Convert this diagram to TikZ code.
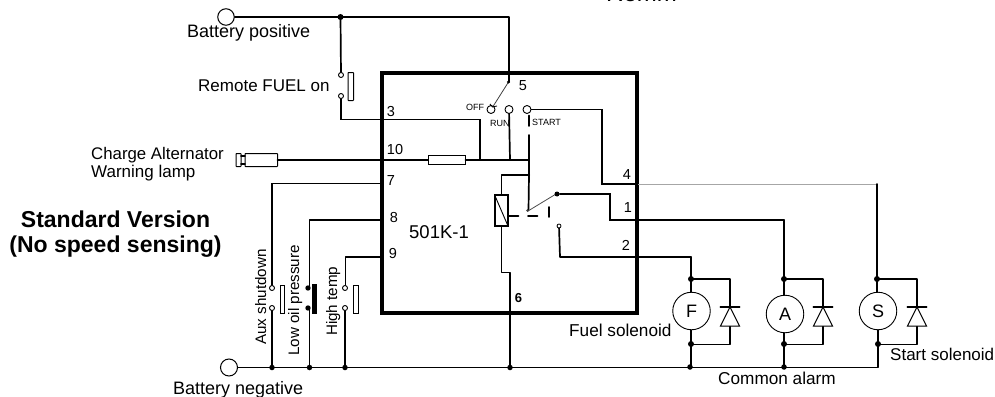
\documentclass[tikz,border=0pt]{standalone}
\usepackage{fontspec}
\setmainfont{Liberation Sans}
\tikzset{
  wire/.style={line width=1.7pt,line cap=round,line join=round},
  thinwire/.style={line width=1.15pt,line cap=round,line join=miter},
  lbl/.style={inner sep=0pt,font=\fontsize{17.5}{20}\selectfont,anchor=base west},
  rotlbl/.style={inner sep=0pt,font=\fontsize{15.2}{18}\selectfont,rotate=90,anchor=base west},
  num/.style={inner sep=0pt,font=\fontsize{14.5}{16}\selectfont,anchor=base},
  tiny/.style={inner sep=0pt,font=\fontsize{9}{11}\selectfont,anchor=base west},
  dotn/.style={circle,fill=black,inner sep=0pt,minimum size=6pt},
  ring/.style={circle,draw,line width=0.9pt,fill=white,inner sep=0pt,minimum size=5pt},
  coilnode/.style={circle,draw,line width=0.9pt,fill=white,inner sep=0pt,minimum width=37.5pt,font=\fontsize{18}{20}\selectfont},
}
\newcommand{\diodesym}[2]{%
  \draw[wire] (#1-9.5,#2-1)--(#1+9.5,#2-1);
  \draw[line width=1pt,line join=miter,fill=white] (#1,#2-1)--(#1+9.5,#2+18)--(#1-9.5,#2+18)--cycle;
  \draw[wire] (#1-9.5,#2-1)--(#1+9.5,#2-1);}
\begin{document}
\begin{tikzpicture}[x=1pt,y=-1pt]
\useasboundingbox (0,0) rectangle (995,396);
\coordinate (bp) at (340.5,17);
\coordinate (bpr) at (509,17);
\coordinate (j5) at (509,82);
\coordinate (bn7) at (272,367.5);
\coordinate (bn8) at (309.5,367.5);
\coordinate (bn9) at (345,367.5);
\coordinate (bn6) at (510,367.5);
% battery terminals
\node[ring,minimum size=16.5pt,line width=1pt] (batp) at (226,17) {};
\node[ring,minimum size=17pt,line width=1pt] (batn) at (229,367.5) {};
\draw[wire] (batp)--(bpr)--(j5);
\draw[wire] (batn)--(bn6)--(784,367.5)--(878,367.5)--(878,337);
\node[dotn] at (bp) {};
% remote fuel
\node[ring] (rf1) at (341,75) {};
\node[ring] (rf2) at (341,96) {};
\draw[wire] (bp)--(rf1);
\draw[thinwire] (rf2)--(341,119.5)--(480,119.5)--(480,160);
\draw[line width=1pt,fill=white,rounded corners=0.5pt] (348,72.5) rectangle (353.5,100.5);
% main box
\draw[line width=4pt,line cap=round,line join=miter] (382,73) rectangle (636.5,313);
% numbers
\node[num] at (391,116) {3};
\node[num] at (395,154) {10};
\node[num] at (391,185) {7};
\node[num] at (394,222) {8};
\node[num] at (393,258) {9};
\node[num] at (627,179) {4};
\node[num] at (628,212) {1};
\node[num] at (626,250) {2};
\node[num] at (523,90) {5};
\node[inner sep=0pt,anchor=base,font=\bfseries\fontsize{13}{15}\selectfont] at (518.5,302) {6};
\node[lbl,font=\fontsize{18.5}{20}\selectfont] at (409,238) {501K-1};
% charge lamp
\draw[line width=1pt,rounded corners=0.5pt] (236,153.5) rectangle (241,166.5);
\draw[line width=1pt,rounded corners=0.5pt] (245,153.5) rectangle (277.5,166.5);
\draw[wire] (241,156)--(245,156) (241,164)--(245,164);
\draw[wire] (277.5,160)--(428,160);
\draw[line width=1pt,fill=white] (428,155.5) rectangle (465.5,164.5);
\draw[wire] (465.5,160)--(528.5,160);
\node[ring,minimum size=8pt] (off) at (491,109.5) {};
\node[ring,minimum size=8pt] (run) at (509,109.5) {};
\node[ring,minimum size=8pt] (start) at (527,109.5) {};
\draw[wire] (run)--(510,160);
\draw[wire] (529,135)--(529,175)--(528.5,210);
\draw[wire] (529,115.5)--(529,126);
\draw[thinwire] (start)--(602,109.5)--(602,184)--(637,184);
\draw[line width=.8pt,color=black!75] (508.5,82)--(493,106.5);
\draw[line width=.8pt] (490,104)--(492.5,107)--(497,106);
\fill (508.5,82) circle (1.6pt);
\node[tiny] at (466,110) {OFF};
\node[tiny] at (490,126) {RUN};
\node[tiny] at (532,125) {START};
% relay
\draw[wire] (528.5,175)--(501.5,175)--(501.5,195);
\fill (528.5,175) circle (1.5pt);
\draw[line width=1.2pt,fill=white] (495,195) rectangle (508,226);
\draw[line width=.9pt] (495.5,197)--(508,226);
\draw[wire] (501.5,226)--(501.5,272.5)--(510,272.5)--(510,367.5);
\draw[line width=.8pt,color=black!70] (528,211)--(556,194);
\fill[black!75] (527.5,210.5) circle (1.5pt);
\node[dotn,minimum size=5pt] (nc) at (557,194) {};
\draw[thinwire] (nc)--(610,194)--(610,220)--(637,220);
\draw[wire] (509,216)--(518.5,216) (528,216)--(537.5,216) (549,207)--(549,217);
\node[ring,minimum size=4pt,line width=.8pt] (no) at (559,226) {};
\draw[wire] (no)--(560,257)--(637,257);
% right wires
\draw[wire] (637,220)--(784,220);
\draw[wire] (637,257)--(691,257);
\draw[line width=.8pt,color=black!35] (638,184)--(877,184);
% Aux, low, high
\draw[thinwire] (382,183.5)--(272,183.5)--(272,285);
\node[ring] (a1) at (272,288) {};
\node[ring] (a2) at (272,308) {};
\draw[wire] (a2)--(bn7);
\draw[line width=1pt,fill=white] (280,285) rectangle (284.5,313);
\draw[wire] (382,220)--(309.5,220)--(309.5,288);
\draw[wire] (309.5,308)--(bn8);
\fill (308,288) circle (2.7pt) (308,308) circle (2.7pt);
\fill (311.5,284) rectangle (317,313.5);
\draw[wire] (382,257)--(345.5,257)--(345.5,285);
\node[ring] (h1) at (345,288) {};
\node[ring] (h2) at (345,308) {};
\draw[wire] (h2)--(bn9);
\draw[line width=1pt,fill=white] (353.5,285.5) rectangle (358,313);
\foreach \p in {(bn7),(bn8),(bn9),(bn6),(690,367),(784,367)}{\node[dotn,minimum size=5.5pt] at \p {};}
% rotated labels
\node[rotlbl] at (266,345) {Aux shutdown};
\node[rotlbl] at (299,356) {Low oil pressure};
\node[rotlbl] at (337,336) {High temp};
% solenoids
\draw[wire] (691,257)--(691,293) (691,329)--(691,367);
\draw[wire] (784,220)--(784,297) (784,332)--(784,367);
\draw[wire] (877,184)--(877,295) (878,329)--(878,344);
\draw[wire] (691,279)--(730,279)--(730,344.5)--(691,344.5);
\draw[wire] (784,279)--(823,279)--(823,344.5)--(784,344.5);
\draw[wire] (877,279)--(917,279)--(917,344.5)--(878,344.5);
\node[coilnode] (cf) at (691.5,311) {F};
\node[coilnode] (ca) at (785,314) {A};
\node[coilnode] (cs) at (878,311) {S};
\foreach \p in {(691,279),(691,344),(784,279),(784,344),(877,279),(878,344)}{\node[dotn,minimum size=6pt] at \p {};}
\diodesym{730}{308}
\diodesym{823}{308}
\diodesym{917}{308}
% text labels
\node[lbl,font=\fontsize{18}{20}\selectfont] at (187,37.5) {Battery positive};
\node[lbl,font=\fontsize{17}{20}\selectfont] at (198,91) {Remote FUEL on};
\node[lbl,font=\fontsize{16.8}{20}\selectfont] at (91,159) {Charge Alternator};
\node[lbl,font=\fontsize{17}{20}\selectfont] at (91,177) {Warning lamp};
\node[lbl,font=\fontsize{18}{20}\selectfont] at (173,394) {Battery negative};
\node[lbl,font=\fontsize{17.2}{20}\selectfont] at (569,336) {Fuel solenoid};
\node[lbl,font=\fontsize{17.2}{20}\selectfont] at (718,384) {Common alarm};
\node[lbl,font=\fontsize{17}{20}\selectfont] at (890,360) {Start solenoid};
\node[lbl,font=\fontsize{24}{26}\selectfont] at (606,2) {Remm};
\node[inner sep=0pt,align=center,font=\bfseries\fontsize{23}{24.5}\selectfont] at (115.5,234) {Standard Version\\(No speed sensing)};
\end{tikzpicture}
\end{document}
